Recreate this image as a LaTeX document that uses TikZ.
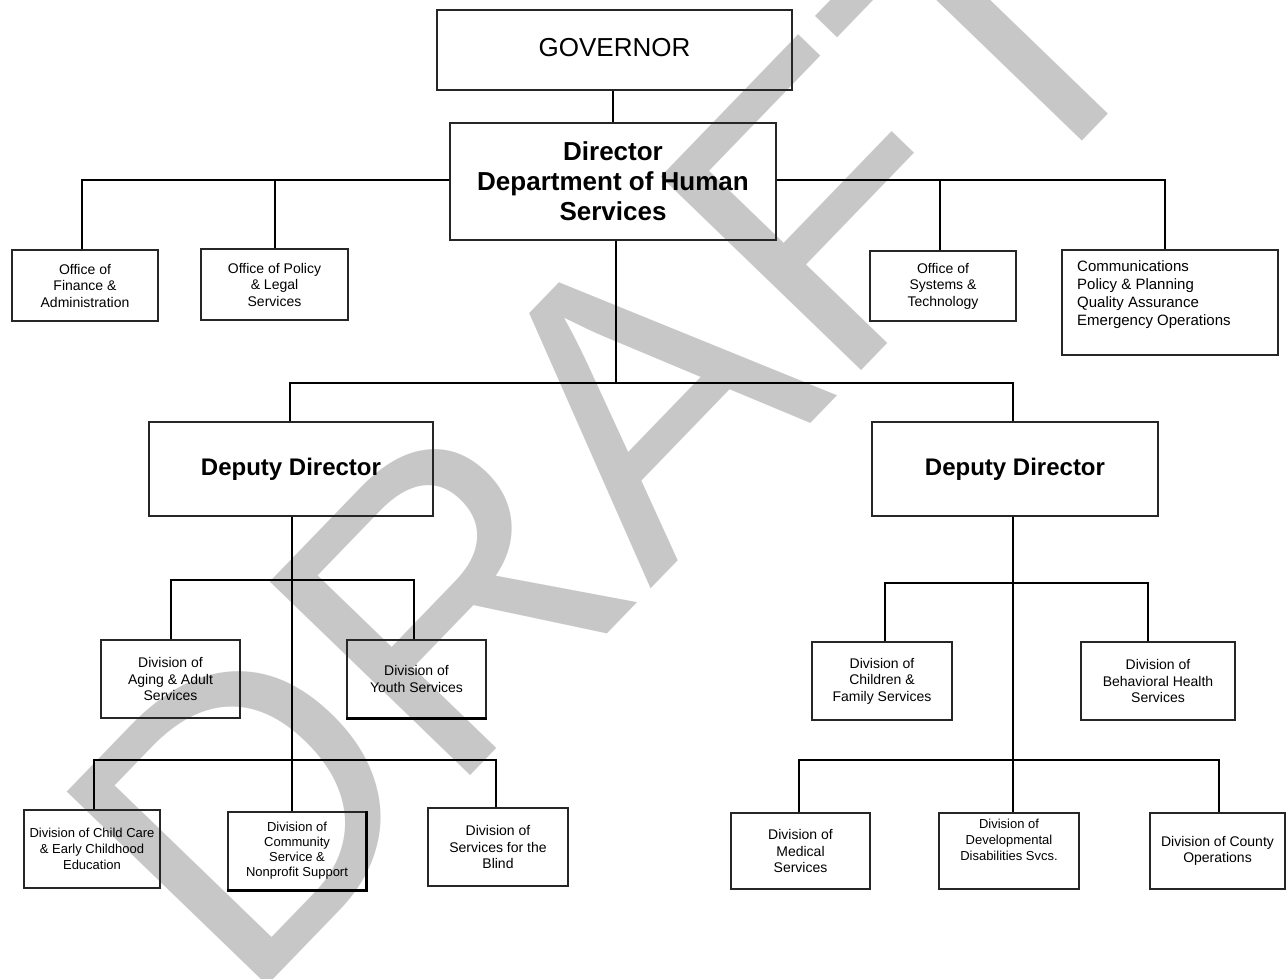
\documentclass[tikz,border=0pt]{standalone}
\usepackage{fontspec}
\setmainfont{Liberation Sans}
\begin{document}
\begin{tikzpicture}[x=1pt,y=-1pt,
  box/.style={draw=black!85, line width=1.3pt, align=center, inner sep=2pt,
    font=\fontsize{14}{16.5}\selectfont},
  conn/.style={line width=2pt},
  big/.style={font=\bfseries\fontsize{24}{30}\selectfont}]
\useasboundingbox (0,0) rectangle (1287,978);
% watermark
\node[rotate=46, anchor=base west, text=black!22, font=\fontsize{405}{405}\selectfont, inner sep=0pt] (wm) at (244,1010) {DRAFT};
% top
\node[box, minimum width=355pt, minimum height=80pt, font=\fontsize{26}{30}\selectfont] (gov) at (614.5,50) {\raisebox{6pt}{GOVERNOR}};
\node[box, minimum width=326pt, minimum height=117pt, font=\bfseries\fontsize{26}{30}\selectfont] (dir) at (613,181.5) {Director\\Department of Human\\Services};
\node[box, minimum width=146pt, minimum height=71pt] (fin) at (85,285.5) {Office of\\Finance \&\\Administration};
\node[box, minimum width=147pt, minimum height=71pt] (pol) at (274.5,284.5) {Office of Policy\\\& Legal\\Services};
\node[box, minimum width=146pt, minimum height=70pt] (sys) at (943,286) {Office of\\Systems \&\\Technology};
\node[box, minimum width=216pt, minimum height=105pt] (com) at (1170,302.5) {};
\node[align=left, anchor=north west, inner sep=0pt, font=\fontsize{15}{18}\selectfont] (comtxt) at (1077,260) {Communications\\Policy \& Planning\\Quality Assurance\\Emergency Operations};
% deputies
\node[box, big, minimum width=284pt, minimum height=94pt] (ldd) at (291,469) {Deputy Director};
\node[box, big, minimum width=286pt, minimum height=94pt] (rdd) at (1015,469) {Deputy Director};
% left divisions
\node[box, minimum width=139pt, minimum height=78pt] (aging) at (170.5,679) {Division of\\Aging \& Adult\\Services};
\node[box, minimum width=139pt, minimum height=78pt] (youth) at (416.5,679) {Division of\\Youth Services};
\node[box, minimum width=136pt, minimum height=78pt, font=\fontsize{13}{16}\selectfont] (child) at (92,849) {Division of Child Care\\\& Early Childhood\\Education};
\node[box, minimum width=138pt, minimum height=78pt, font=\fontsize{13}{15}\selectfont] (commsup) at (297,851) {Division of\\Community\\Service \&\\Nonprofit Support};
\node[box, minimum width=140pt, minimum height=78pt] (blind) at (498,847) {Division of\\Services for the\\Blind};
% heavier edges
\draw[line width=2.6pt] (youth.south west) -- (youth.south east);
\draw[line width=2.6pt] (commsup.north east) -- (commsup.south east) -- (commsup.south west);
% right divisions
\node[box, minimum width=140pt, minimum height=78pt] (children) at (882,681) {Division of\\Children \&\\Family Services};
\node[box, minimum width=154pt, minimum height=78pt] (behav) at (1158,681) {Division of\\Behavioral Health\\Services};
\node[box, minimum width=139pt, minimum height=76pt] (med) at (800.5,851) {Division of\\Medical\\Services};
\node[box, minimum width=140pt, minimum height=76pt, font=\fontsize{13}{16}\selectfont] (dev) at (1009,851) {Division of\\Developmental\\Disabilities Svcs.\\[6pt]};
\node[box, minimum width=135pt, minimum height=76pt] (county) at (1217.5,851) {Division of County\\Operations};
% connector coordinates
\coordinate (hL) at (82,180);
\coordinate (hR) at (1165,180);
\coordinate (hM) at (616,383);
\coordinate (lA) at (171,580);
\coordinate (lB) at (414,580);
\coordinate (lC) at (94,760);
\coordinate (lD) at (496,760);
\coordinate (rA) at (885,583);
\coordinate (rB) at (1148,583);
\coordinate (rC) at (799,760);
\coordinate (rD) at (1219,760);
% connectors
\draw[conn] (gov.south -| 613,0) -- (dir.north -| 613,0);
\draw[conn] (dir.west |- hL) -- (hL) -- (fin.north -| hL);
\draw[conn] (pol.north) -- (pol.north |- hL);
\draw[conn] (dir.east |- hR) -- (hR) -- (com.north -| hR);
\draw[conn] (sys.north -| 940,0) -- (940,180);
\draw[conn] (dir.south -| hM) -- (hM);
\draw[conn] (ldd.north -| 290,0) -- (290,383) -- (1013,383) -- (rdd.north -| 1013,0);
% left deputy
\draw[conn] (ldd.south -| 292,0) -- (commsup.north -| 292,0);
\draw[conn] (aging.north -| lA) -- (lA) -- (lB) -- (youth.north -| lB);
\draw[conn] (child.north -| lC) -- (lC) -- (lD) -- (blind.north -| lD);
% right deputy
\draw[conn] (rdd.south -| 1013,0) -- (dev.north -| 1013,0);
\draw[conn] (children.north -| rA) -- (rA) -- (rB) -- (behav.north -| rB);
\draw[conn] (med.north -| rC) -- (rC) -- (rD) -- (county.north -| rD);
\end{tikzpicture}
\end{document}
